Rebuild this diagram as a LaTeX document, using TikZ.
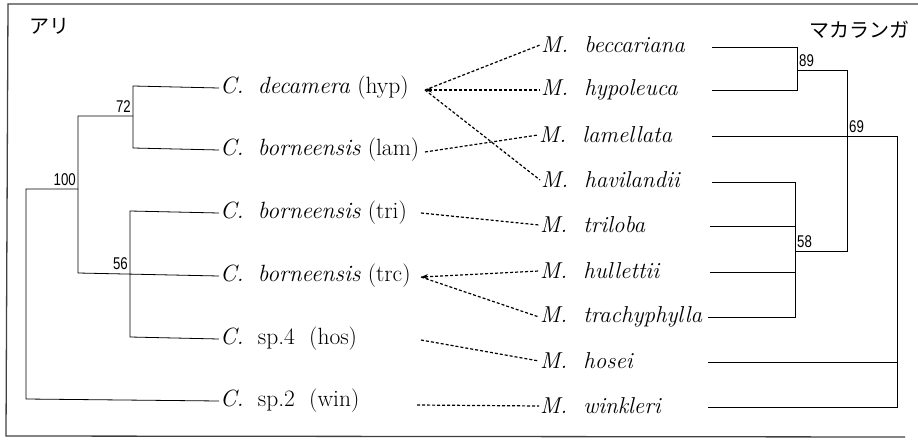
\documentclass[tikz,border=0pt]{standalone}
\usepackage{fontspec}
\newfontfamily\jpfont{Noto Sans CJK JP}
\newfontfamily\numfont[FakeStretch=0.78]{Liberation Sans}
\usetikzlibrary{arrows.meta}
\begin{document}
\begin{tikzpicture}[x=1pt,y=-1pt,
  tree/.style={line width=0.8pt},
  frame/.style={line width=1.3pt, black!75},
  lab/.style={anchor=west, inner sep=1pt, font=\fontsize{23.5}{26}\selectfont},
  mlab/.style={anchor=west, inner sep=1pt, font=\fontsize{23}{26}\selectfont\itshape},
  bs/.style={font=\numfont\fontsize{17}{17}\selectfont, inner sep=1pt},
  jp/.style={font=\jpfont\fontsize{20}{20}\selectfont, inner sep=0pt},
  link/.style={dash pattern=on 3pt off 2pt, line width=1.2pt},
  tip/.style={link, {Stealth[length=7pt,width=5pt]}-}
]
\useasboundingbox (0,0) rectangle (918,444);
% frame
\draw[frame] (918,4) -- (8,4) -- (6,436) -- (905,437);

% Japanese titles
\node[jp, anchor=west] (ari) at (29,26) {アリ};
\node[jp, anchor=west] (maca) at (809,30) {マカランガ};

% ant labels
\node[lab] (hyp) at (219,88) {\textit{C.}\ \ \textit{decamera} (hyp)};
\node[lab] (lam) at (219,150) {\textit{C.}\ \ \textit{borneensis} (lam)};
\node[lab] (tri) at (219,213) {\textit{C.}\ \ \textit{borneensis} (tri)};
\node[lab] (trc) at (219,276) {\textit{C.}\ \ \textit{borneensis} (trc)};
\node[lab] (hos) at (219,339) {\textit{C.}\ \ sp.4\ \ (hos)};
\node[lab] (win) at (219,401) {\textit{C.}\ \ sp.2\ \ (win)};

% ant tree
\draw[tree] (hyp.west) -- (133,86) -- (133,148) -- (lam.west);
\draw[tree] (133,116) -- (78,116) -- (78,273) -- (trc.west);
\draw[tree] (tri.west) -- (130,211) -- (130,337) -- (hos.west);
\draw[tree] (78,189) -- (26,189) -- (26,399) -- (win.west);
\node[bs, anchor=south east] (b72) at (132,114) {72};
\node[bs, anchor=south east] (b100) at (77,187) {100};
\node[bs, anchor=south east] (b56) at (129,271) {56};

% Macaranga labels
\node[mlab] (bec) at (540,45) {M.\ \ beccariana};
\node[mlab] (hyl) at (540,90) {M.\ \ hypoleuca};
\node[mlab] (lml) at (538,135) {M.\ \ lamellata};
\node[mlab] (hav) at (540,180) {M.\ \ havilandii};
\node[mlab] (trl) at (539,225) {M.\ \ triloba};
\node[mlab] (hul) at (539,271) {M.\ \ hullettii};
\node[mlab] (tra) at (539,317) {M.\ \ trachyphylla};
\node[mlab] (hsi) at (539,361) {M.\ \ hosei};
\node[mlab] (wnk) at (539,406) {M.\ \ winkleri};

% Macaranga tree
\draw[tree] (712,47) -- (797,47) -- (797,90) -- (712,90);
\draw[tree] (797,70) -- (847,70) -- (847,251) -- (795,251);
\draw[tree] (712,182) -- (795,182) -- (795,317) -- (708,317);
\draw[tree] (710,226) -- (795,226);
\draw[tree] (710,272) -- (795,272);
\draw[tree] (712,136) -- (897,136) -- (897,407) -- (708,407);
\draw[tree] (708,362) -- (897,362);
\node[bs, anchor=south west] (b89) at (798,68) {89};
\node[bs, anchor=south west] (b69) at (848,134) {69};
\node[bs, anchor=south west] (b58) at (796,249) {58};

% associations
\coordinate (hypE) at (425,90);
\coordinate (trcE) at (421,277);
\coordinate (lamE) at (425,152);
\coordinate (triE) at (421,213);
\coordinate (hosE) at (421,340);
\coordinate (winE) at (417,405);
\draw[link] (hypE) -- (bec.west);
\draw[tip] (hypE) -- (hyl.west);
\draw[link] (hypE) -- (hav.west);
\draw[link] (lamE) -- (lml.west);
\draw[link] (triE) -- (trl.west);
\draw[tip] (trcE) -- (hul.west);
\draw[link] (trcE) -- (tra.west);
\draw[link] (hosE) -- (hsi.west);
\draw[link] (winE) -- (wnk.west);
\end{tikzpicture}
\end{document}
